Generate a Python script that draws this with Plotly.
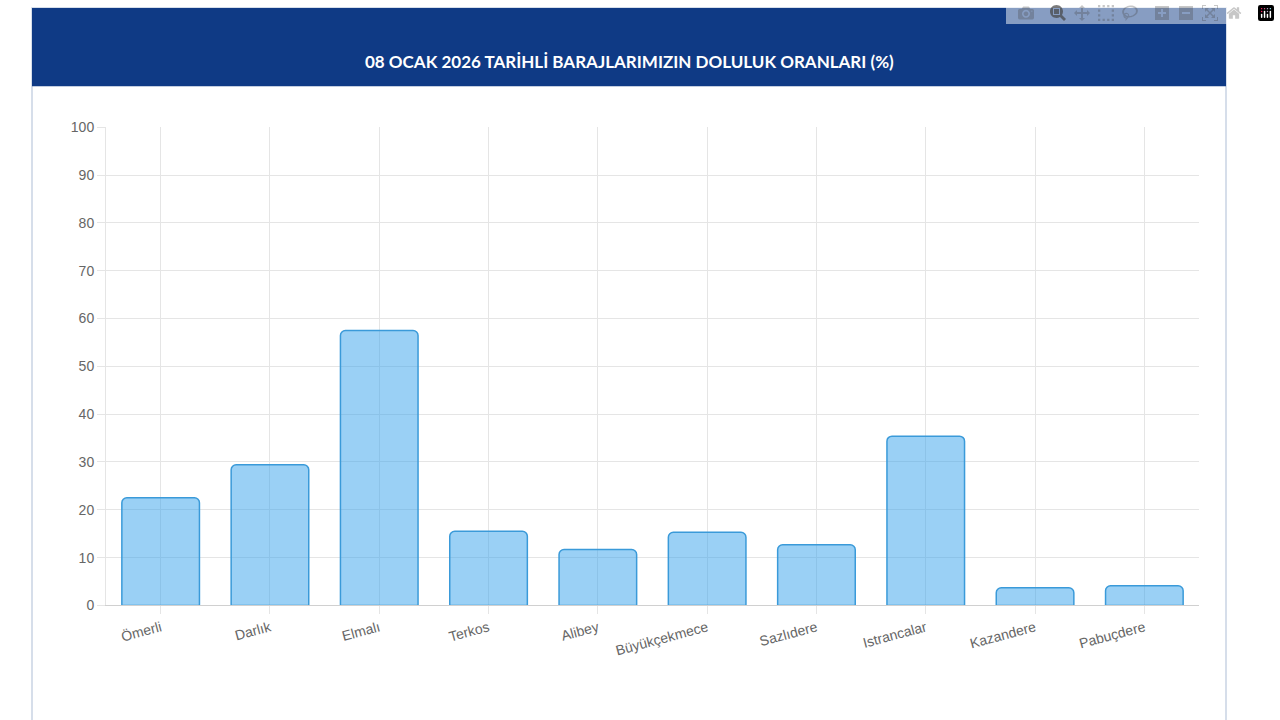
import plotly.graph_objects as go

dams = ["Ömerli", "Darlık", "Elmalı", "Terkos", "Alibey", "Büyükçekmece",
        "Sazlıdere", "Istrancalar", "Kazandere", "Pabuçdere"]
fill_pct = [22.5, 29.4, 57.5, 15.5, 11.7, 15.3, 12.7, 35.4, 3.7, 4.1]
y_ticks = list(range(0, 101, 10))

fig = go.Figure(go.Bar(
    x=dams, y=fill_pct, width=0.71,
    marker=dict(color="rgba(54,162,235,0.5)", line=dict(color="#3a9ad9", width=1.5),
                cornerradius=5),
    hoverinfo="x+y",
))

# card frame + header
fig.add_shape(type="rect", xref="paper", yref="paper", x0=32/1280, x1=1226/1280,
              y0=-0.05, y1=1, line=dict(color="#c9d3e3", width=1.5), fillcolor="white", layer="below")
fig.add_shape(type="rect", xref="paper", yref="paper", x0=32/1280, x1=1226/1280,
              y0=1-80/720, y1=1, line=dict(width=0), fillcolor="#0f3a85", layer="below")
fig.add_annotation(text="<b>08 OCAK 2026 TARİHLİ BARAJLARIMIZIN DOLULUK ORANLARI (%)</b>",
                   xref="paper", yref="paper", x=629/1280, y=1-42/720, showarrow=False,
                   font=dict(family="Lato, Open Sans, sans-serif", size=17, color="white"))

fig.update_layout(
    width=1280, height=720, margin=dict(l=0, r=0, t=0, b=0),
    paper_bgcolor="white", plot_bgcolor="white", showlegend=False,
    font=dict(family="Liberation Sans, Arial, sans-serif", size=14, color="#666"),
    xaxis=dict(domain=[106/1280, 1199/1280], showgrid=True, gridcolor="#e5e5e5",
               tickangle=-15, ticks="outside", tickcolor="#e5e5e5", ticklen=8,
               showline=True, linecolor="#d0d0d0"),
    yaxis=dict(domain=[1-611/720, 1-122/720], range=[0, 100], tickvals=y_ticks,
               gridcolor="#e5e5e5", zeroline=False, ticks="outside", tickcolor="#e5e5e5",
               ticklen=8, showline=True, linecolor="#e5e5e5"),
)
fig.write_html("out.html",
               post_script="document.body.style.margin='0';document.body.style.overflow='hidden';")
